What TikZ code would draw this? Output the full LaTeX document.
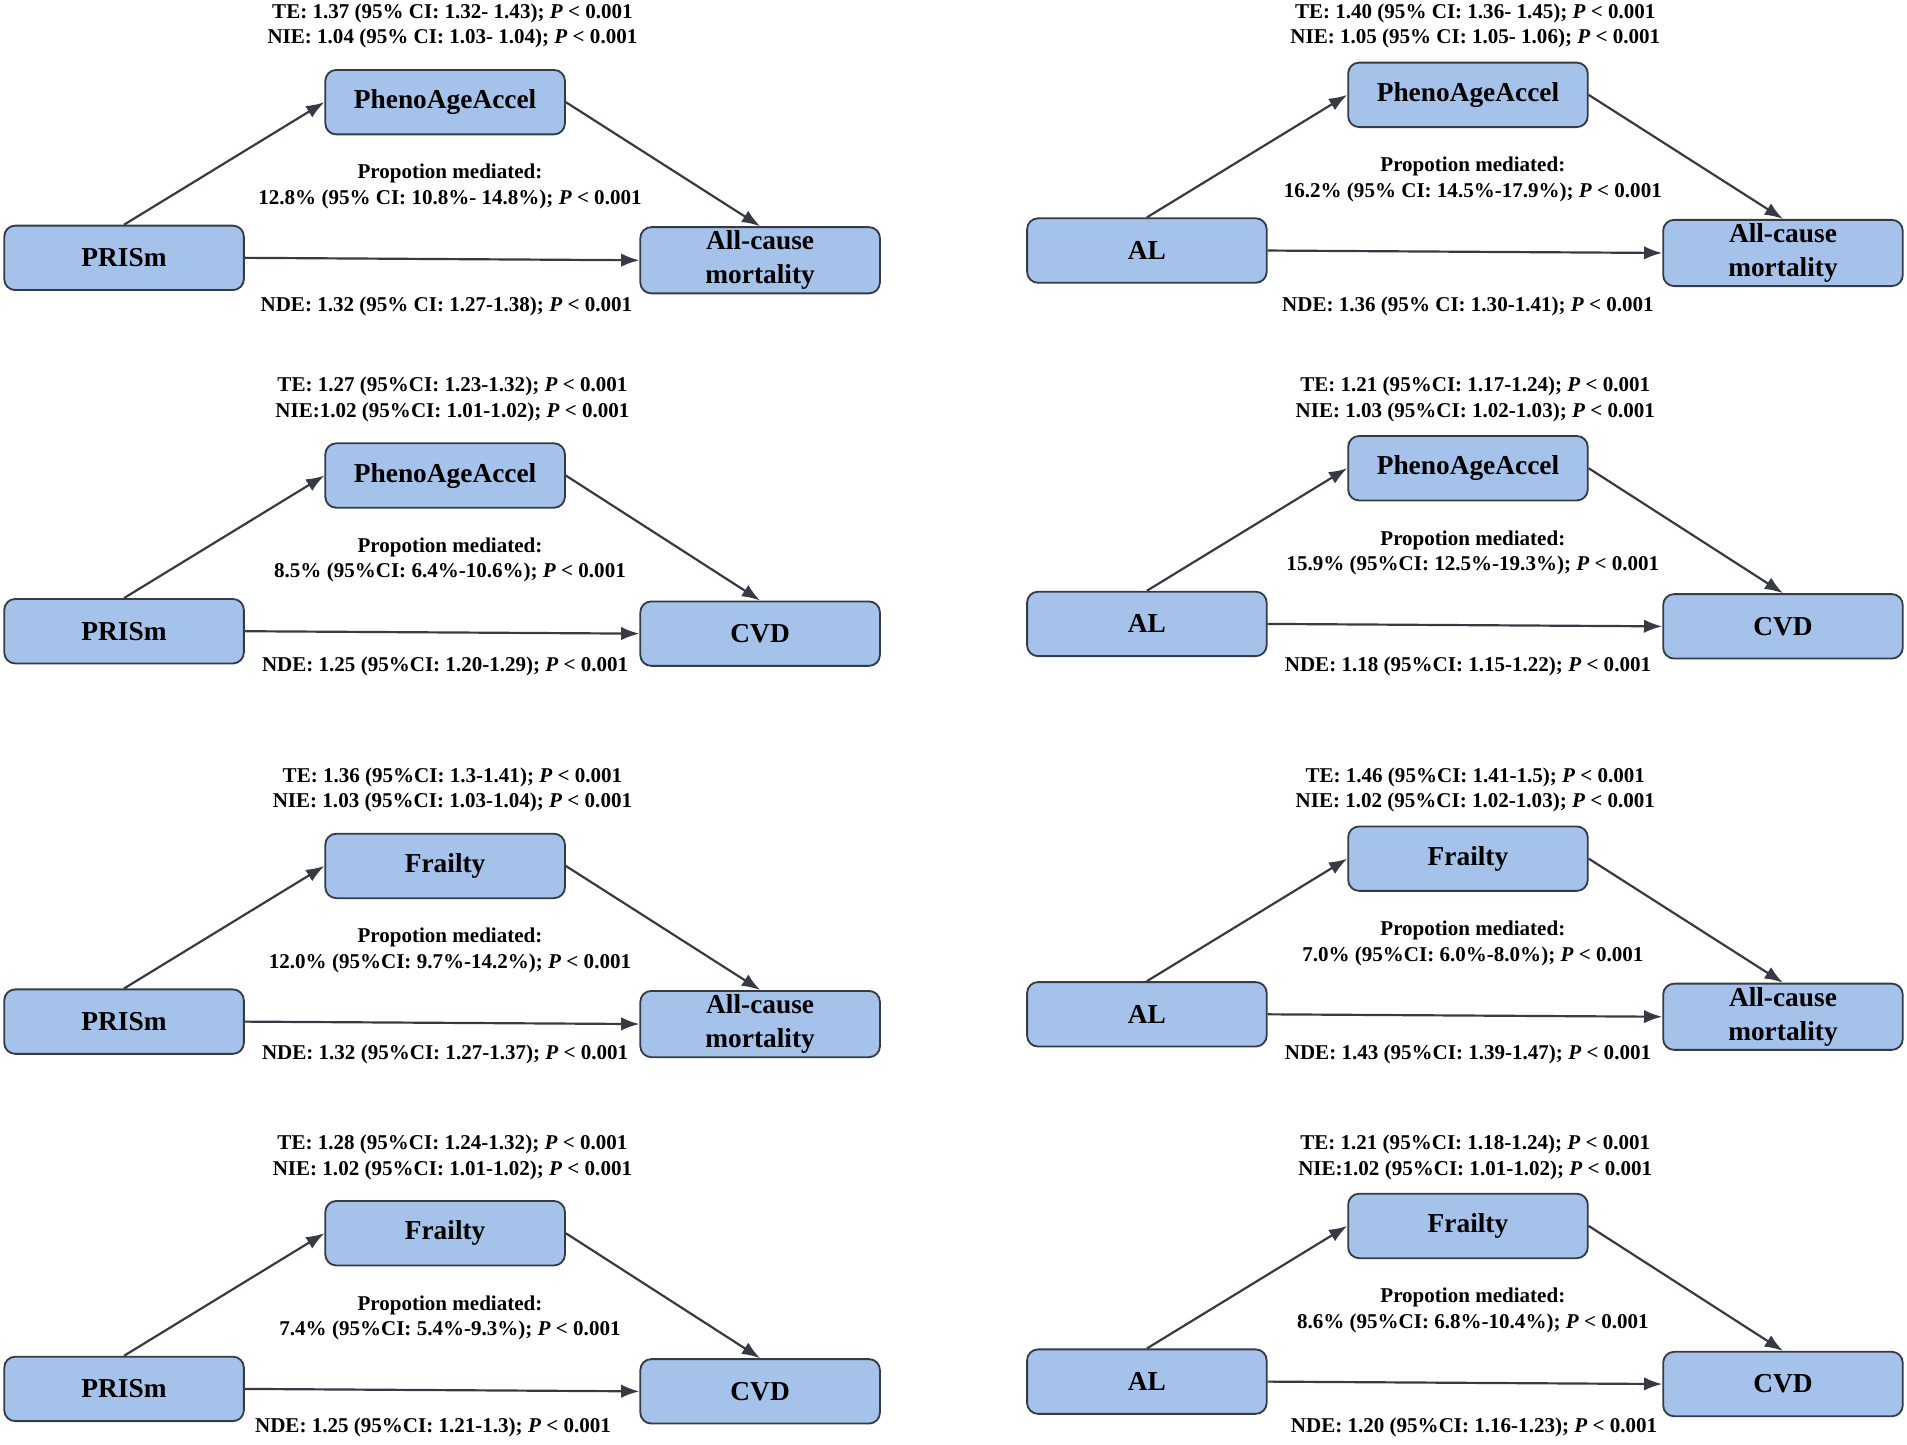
\documentclass[tikz,border=0pt]{standalone}
\usepackage{fontspec}
\setmainfont{Liberation Serif}
\usetikzlibrary{arrows.meta,
                positioning}
\definecolor{boxfill}{HTML}{A4C2EA}
\definecolor{linegray}{HTML}{363A45}
\tikzset{block/.style =
   {rectangle,
    draw=linegray,
    line width=1.5pt,
    fill=boxfill,
    rounded corners=9pt,
    text centered,
    align=center,
    inner sep=3pt,
    minimum width=197pt,
    minimum height=53pt,
    font=\fontsize{22.5}{28}\selectfont\bfseries}}
\tikzset{stat/.style =
   {inner sep=0pt,
    font=\fontsize{17.3}{21}\selectfont\bfseries}}
\tikzset{arrow/.style = {draw=linegray, line width=1.8pt,
    -{Latex[length=15pt,width=11pt]}}}
\newcommand{\Pval}{\textit{P}}
\newcommand{\boxdy}{0}
% \panel{x}{y}{prefix}{exposure}{mediator}{outcome}{TE}{NIE}{prop}{NDE}
\newcommand{\panel}[9]{%
  \begin{scope}[shift={(#1,#2)}]
    \node [block] (#3exp) at (102,212+\boxdy) {#4};
    \node [block] (#3med) at (366,84+\boxdy) {#5};
    \node [block] (#3out) at (625,214+\boxdy) {#6};
    \node [stat] (#3te) at (372,11) {#7};
    \node [stat] (#3nie) at (372,32) {#8};
    \node [stat] (#3pm) at (370,143+\boxdy) {Propotion mediated:};
    \node [stat] (#3pv) at (370,164+\boxdy) {#9};
    \draw [arrow] (#3exp.north) -- (#3med.west);
    \draw [arrow] (#3med.east) -- (#3out.north);
    \draw [arrow] (#3exp.east) -- (#3out.west);
  \end{scope}}
\newcommand{\nde}[4]{\node [stat] (#3nde) at (#1,#2) {#4};}
\begin{document}
\begin{tikzpicture}[x=1pt,y=-1pt]
  \useasboundingbox (0,0) rectangle (1568,1188);

  % left column
  \panel{0}{0}{a}{PRISm}{PhenoAgeAccel}{All-cause\\mortality}
    {TE: 1.37 (95\% CI: 1.32- 1.43); \Pval{} < 0.001}
    {NIE: 1.04 (95\% CI: 1.03- 1.04); \Pval{} < 0.001}
    {12.8\% (95\% CI: 10.8\%- 14.8\%); \Pval{} < 0.001}
  \nde{367}{252}{a}{NDE: 1.32 (95\% CI: 1.27-1.38); \Pval{} < 0.001}

  \panel{0}{307}{b}{PRISm}{PhenoAgeAccel}{CVD}
    {TE: 1.27 (95\%CI: 1.23-1.32); \Pval{} < 0.001}
    {NIE:1.02 (95\%CI: 1.01-1.02); \Pval{} < 0.001}
    {8.5\% (95\%CI: 6.4\%-10.6\%); \Pval{} < 0.001}
  \nde{366}{548}{b}{NDE: 1.25 (95\%CI: 1.20-1.29); \Pval{} < 0.001}

  \panel{0}{628}{c}{PRISm}{Frailty}{All-cause\\mortality}
    {TE: 1.36 (95\%CI: 1.3-1.41); \Pval{} < 0.001}
    {NIE: 1.03 (95\%CI: 1.03-1.04); \Pval{} < 0.001}
    {12.0\% (95\%CI: 9.7\%-14.2\%); \Pval{} < 0.001}
  \nde{366}{867}{c}{NDE: 1.32 (95\%CI: 1.27-1.37); \Pval{} < 0.001}

  \panel{0}{930}{d}{PRISm}{Frailty}{CVD}
    {TE: 1.28 (95\%CI: 1.24-1.32); \Pval{} < 0.001}
    {NIE: 1.02 (95\%CI: 1.01-1.02); \Pval{} < 0.001}
    {7.4\% (95\%CI: 5.4\%-9.3\%); \Pval{} < 0.001}
  \nde{356}{1174}{d}{NDE: 1.25 (95\%CI: 1.21-1.3); \Pval{} < 0.001}

  % right column
  \renewcommand{\boxdy}{-6}
  \panel{841}{0}{e}{AL}{PhenoAgeAccel}{All-cause\\mortality}
    {TE: 1.40 (95\% CI: 1.36- 1.45); \Pval{} < 0.001}
    {NIE: 1.05 (95\% CI: 1.05- 1.06); \Pval{} < 0.001}
    {16.2\% (95\% CI: 14.5\%-17.9\%); \Pval{} < 0.001}
  \nde{1207}{252}{e}{NDE: 1.36 (95\% CI: 1.30-1.41); \Pval{} < 0.001}

  \panel{841}{307}{f}{AL}{PhenoAgeAccel}{CVD}
    {TE: 1.21 (95\%CI: 1.17-1.24); \Pval{} < 0.001}
    {NIE: 1.03 (95\%CI: 1.02-1.03); \Pval{} < 0.001}
    {15.9\% (95\%CI: 12.5\%-19.3\%); \Pval{} < 0.001}
  \nde{1207}{548}{f}{NDE: 1.18 (95\%CI: 1.15-1.22); \Pval{} < 0.001}

  \panel{841}{628}{g}{AL}{Frailty}{All-cause\\mortality}
    {TE: 1.46 (95\%CI: 1.41-1.5); \Pval{} < 0.001}
    {NIE: 1.02 (95\%CI: 1.02-1.03); \Pval{} < 0.001}
    {7.0\% (95\%CI: 6.0\%-8.0\%); \Pval{} < 0.001}
  \nde{1207}{867}{g}{NDE: 1.43 (95\%CI: 1.39-1.47); \Pval{} < 0.001}

  \panel{841}{930}{h}{AL}{Frailty}{CVD}
    {TE: 1.21 (95\%CI: 1.18-1.24); \Pval{} < 0.001}
    {NIE:1.02 (95\%CI: 1.01-1.02); \Pval{} < 0.001}
    {8.6\% (95\%CI: 6.8\%-10.4\%); \Pval{} < 0.001}
  \nde{1212}{1174}{h}{NDE: 1.20 (95\%CI: 1.16-1.23); \Pval{} < 0.001}
\end{tikzpicture}
\end{document}
